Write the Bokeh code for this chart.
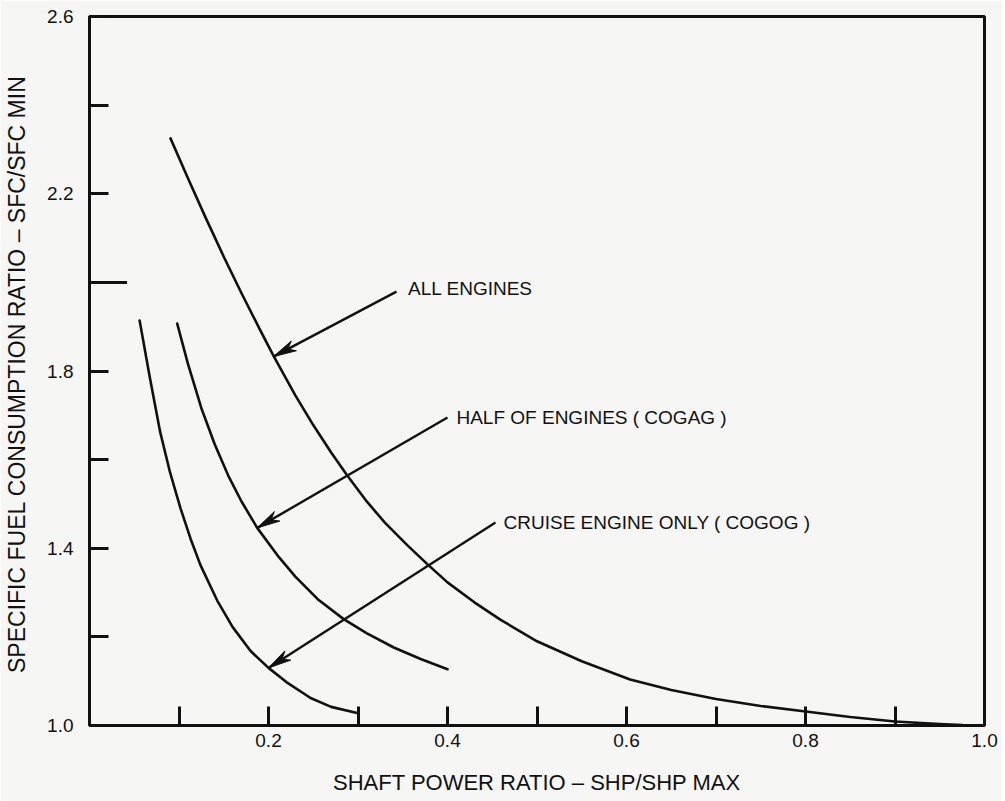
import math
from bokeh.plotting import figure
from bokeh.models import Range1d, FixedTicker, PrintfTickFormatter, Label
from bokeh.embed import file_html
from bokeh.resources import INLINE

# ---------------- data ----------------
all_x = [0.0905, 0.11, 0.13, 0.15, 0.17, 0.19, 0.2056, 0.23, 0.25, 0.27, 0.288, 0.31, 0.33,
         0.355, 0.378, 0.40, 0.43, 0.459, 0.50, 0.55, 0.604, 0.65, 0.70, 0.75, 0.798,
         0.85, 0.90, 0.95, 0.975]
all_y = [2.325, 2.235, 2.145, 2.058, 1.975, 1.895, 1.834, 1.745, 1.678, 1.616, 1.564, 1.505, 1.458,
         1.407, 1.363, 1.323, 1.278, 1.239, 1.190, 1.145, 1.104, 1.080, 1.060, 1.044, 1.032,
         1.019, 1.009, 1.003, 1.001]

half_x = [0.098, 0.11, 0.125, 0.14, 0.155, 0.17, 0.1874, 0.21, 0.23, 0.255, 0.284, 0.31,
          0.34, 0.37, 0.40]
half_y = [1.907, 1.816, 1.716, 1.634, 1.564, 1.505, 1.446, 1.384, 1.336, 1.285, 1.240, 1.208,
          1.176, 1.150, 1.127]

cruise_x = [0.056, 0.067, 0.079, 0.09, 0.1017, 0.113, 0.124, 0.1427, 0.16, 0.18, 0.20, 0.22,
            0.247, 0.27, 0.299]
cruise_y = [1.914, 1.790, 1.662, 1.571, 1.490, 1.421, 1.362, 1.282, 1.222, 1.168, 1.130, 1.098,
            1.062, 1.042, 1.028]

x_major = [0.2, 0.4, 0.6, 0.8, 1.0]
x_minor = [0.1, 0.3, 0.5, 0.7, 0.9]
y_major = [1.0, 1.4, 1.8, 2.2, 2.6]
y_minor = [1.2, 1.6, 2.0, 2.4]

series_labels = ["ALL ENGINES", "HALF OF ENGINES  ( COGAG )", "CRUISE ENGINE ONLY   ( COGOG )"]
x_title = "SHAFT POWER RATIO \u2013 SHP/SHP MAX"
y_title = "SPECIFIC FUEL CONSUMPTION  RATIO \u2013 SFC/SFC MIN"

# ---------------- annotation placement ----------------
arrow_tail = [(0.343, 1.979), (0.400, 1.695), (0.4536, 1.458)]
arrow_tip = [(0.2056, 1.8325), (0.1874, 1.446), (0.200, 1.130)]
label_pos = [(0.356, 1.986), (0.410, 1.695), (0.4626, 1.458)]

BG = "#f6f6f4"
FONT = "Liberation Sans"
INK = "#111111"
FW, FH = 895, 709
X0, X1, Y0, Y1 = 0.0, 1.0, 1.0, 2.6

p = figure(frame_width=FW, frame_height=FH,
           x_range=Range1d(X0, X1), y_range=Range1d(Y0, Y1),
           output_backend="svg", toolbar_location=None,
           min_border_left=89, min_border_right=18, min_border_top=16, min_border_bottom=76,
           background_fill_color=BG, border_fill_color=BG)

p.grid.visible = False
p.outline_line_color = INK
p.outline_line_width = 3

for ax, maj, mnr in ((p.xaxis, x_major, x_minor), (p.yaxis, y_major, y_minor)):
    ax.ticker = FixedTicker(ticks=maj, minor_ticks=mnr)
    ax.formatter = PrintfTickFormatter(format="%.1f")
    ax.axis_line_width = 3
    ax.axis_line_color = INK
    ax.major_tick_in = 19
    ax.major_tick_out = 0
    ax.minor_tick_in = 19
    ax.minor_tick_out = 0
    ax.major_tick_line_width = 3
    ax.minor_tick_line_width = 3
    ax.major_tick_line_color = INK
    ax.minor_tick_line_color = INK
    ax.major_label_text_font = FONT
    ax.major_label_text_font_size = "19px"
    ax.major_label_text_color = INK
    ax.axis_label_text_font = FONT
    ax.axis_label_text_font_style = "normal"
    ax.axis_label_text_color = INK

p.xaxis.major_label_standoff = 8
p.yaxis.major_label_standoff = 16
p.xaxis.axis_label = x_title
p.yaxis.axis_label = y_title
p.xaxis.axis_label_text_font_size = "22px"
p.yaxis.axis_label_text_font_size = "23px"
p.xaxis.axis_label_standoff = 20
p.yaxis.axis_label_standoff = 14

# longer tick at 2.0
p.segment(x0=[0.0], y0=[2.0], x1=[0.042], y1=[2.0], line_width=3, line_color=INK)

# curves
for xs, ys in ((all_x, all_y), (half_x, half_y), (cruise_x, cruise_y)):
    p.line(xs, ys, line_width=2.6, line_color=INK, line_join="round", line_cap="round")

# arrows (shaft + narrow notched head) and labels
sx = FW / (X1 - X0)
sy = FH / (Y1 - Y0)
HEAD_LEN, HEAD_HALF, NOTCH = 23.0, 5.5, 16.0
for (tx, ty), (hx, hy), (lx, ly), txt in zip(arrow_tail, arrow_tip, label_pos, series_labels):
    p.segment(x0=[tx], y0=[ty], x1=[hx], y1=[hy], line_width=2.4, line_color=INK)
    dxp, dyp = (tx - hx) * sx, (ty - hy) * sy
    L = math.hypot(dxp, dyp)
    ux, uy = dxp / L, dyp / L
    px_, py_ = -uy, ux
    pts = [(0.0, 0.0),
           (HEAD_LEN * ux + HEAD_HALF * px_, HEAD_LEN * uy + HEAD_HALF * py_),
           (NOTCH * ux, NOTCH * uy),
           (HEAD_LEN * ux - HEAD_HALF * px_, HEAD_LEN * uy - HEAD_HALF * py_)]
    p.patch([hx + a / sx for a, _ in pts], [hy + b / sy for _, b in pts],
            fill_color=INK, line_color=INK, line_width=1)
    p.add_layout(Label(x=lx, y=ly, text=txt, text_font=FONT, text_font_size="19px",
                       text_color=INK, text_align="left", text_baseline="middle"))

open("out.html", "w").write(file_html(p, INLINE))
